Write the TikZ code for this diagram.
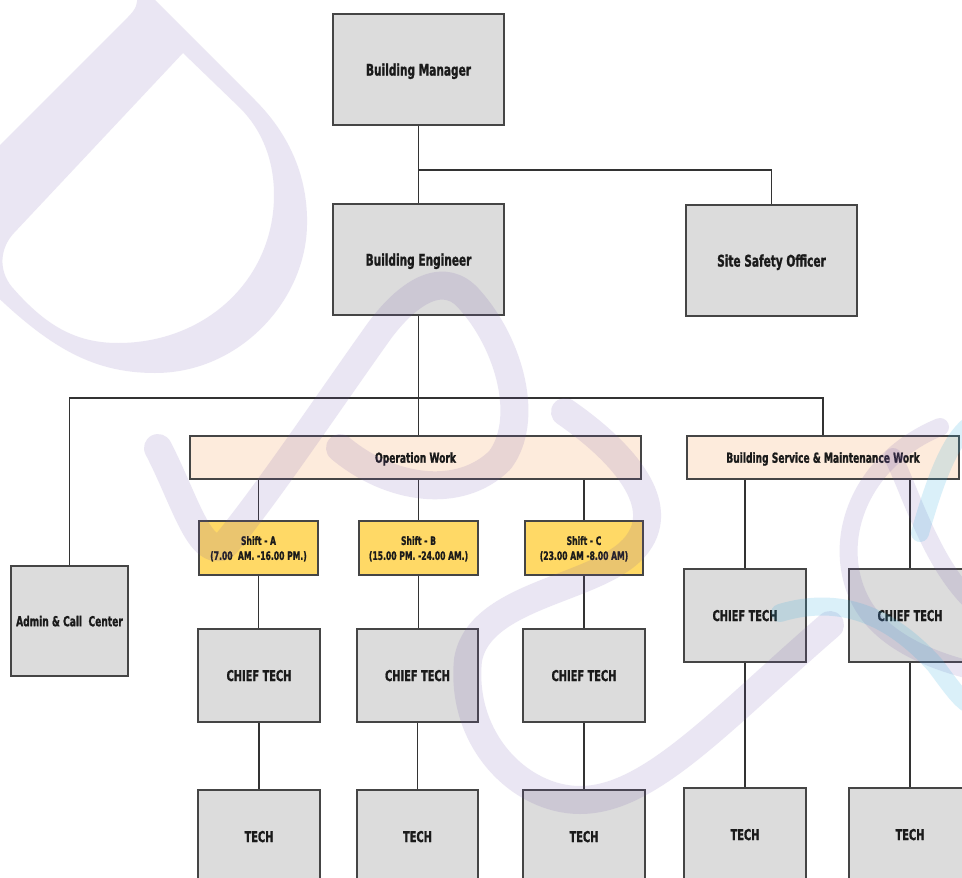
\documentclass[tikz,border=0pt]{standalone}
\usepackage{fontspec}
\setmainfont[FakeStretch=0.66, BoldFeatures={FakeBold=1.2}]{DejaVu Sans}
\definecolor{boxgray}{HTML}{DCDCDC}
\definecolor{edge}{HTML}{454545}
\definecolor{wire}{HTML}{333333}
\definecolor{peach}{HTML}{FDEBDC}
\definecolor{shiftyellow}{HTML}{FFD966}
\definecolor{ink}{HTML}{1A1A1A}
\definecolor{wmpurple}{RGB}{110,80,170}
\definecolor{wmcyan}{RGB}{50,175,225}
\begin{document}
\begin{tikzpicture}[x=1pt,y=-1pt,
  box/.style={draw=edge, line width=1.2pt, fill=boxgray, inner sep=0pt, text=ink,
    text depth=0pt, font=\bfseries\fontsize{16}{19}\selectfont},
  bigbox/.style={box, minimum width=171pt, minimum height=111pt},
  techbox/.style={box, minimum width=122pt, minimum height=93pt,
    font=\bfseries\fontsize{14.9}{18}\selectfont},
  groupbar/.style={box, fill=peach, minimum height=43pt,
    font=\bfseries\fontsize{13.8}{16}\selectfont},
  shiftbox/.style={box, fill=shiftyellow, minimum width=119pt, minimum height=54pt,
    align=center, font=\bfseries\fontsize{11.6}{15}\selectfont},
  link/.style={draw=wire, line width=1.5pt},
  wmband/.style={draw=wmpurple, draw opacity=0.14, line width=28pt, line cap=round, line join=round},
  wmthin/.style={wmband, line width=18pt},
  wmcyanband/.style={wmthin, draw=wmcyan, draw opacity=0.18}
]
\useasboundingbox (0,0) rectangle (962,878);
\clip (0,0) rectangle (962,878);
\fill[white] (0,0) rectangle (962,878);

% ---- management ----
\node[bigbox] (bm)  at (418.5,69.5)  {Building Manager};
\node[bigbox] (be)  at (418.5,259.5) {Building Engineer};
\node[bigbox] (sso) at (771.5,260.5) {Site Safety Officer};

% ---- departments ----
\node[box, minimum width=117pt, minimum height=110pt,
      font=\bfseries\fontsize{13.8}{16}\selectfont] (admin) at (69.5,621) {Admin \& Call\ \ Center};
\node[groupbar, minimum width=451pt] (ow)  at (415.5,457.5) {Operation Work};
\node[groupbar, minimum width=272pt] (bsm) at (823,457.5)   {Building Service \& Maintenance Work};

% ---- shifts ----
\node[shiftbox] (shA) at (258.5,548) {Shift - A\\(7.00\ \ AM. -16.00 PM.)};
\node[shiftbox] (shB) at (418.5,548) {Shift - B\\(15.00 PM. -24.00 AM.)};
\node[shiftbox, minimum width=118pt] (shC) at (584,548) {Shift - C\\(23.00 AM -8.00 AM)};

% ---- chief technicians ----
\node[techbox] (ctA) at (259,675.5) {CHIEF TECH};
\node[techbox, minimum width=121pt] (ctB) at (417.5,675.5) {CHIEF TECH};
\node[techbox] (ctC) at (584,675.5) {CHIEF TECH};
\node[techbox] (ctD) at (745,615.5) {CHIEF TECH};
\node[techbox] (ctE) at (910,615.5) {CHIEF TECH};

% ---- technicians ----
\node[techbox] (tA) at (259,836.5) {TECH};
\node[techbox, minimum width=121pt] (tB) at (417.5,836.5) {TECH};
\node[techbox] (tC) at (584,836.5) {TECH};
\node[techbox] (tD) at (745,834.5) {TECH};
\node[techbox] (tE) at (910,834.5) {TECH};

% ---- connectors ----
\coordinate (split1) at (418.5,170);
\coordinate (split2) at (418.5,398);
\path[link] (bm.south) -- (split1) -- (be.north);
\path[link] (split1) -| (sso.north);
\path[link] (be.south) -- (split2);
\path[link] (split2) -| (admin.north);
\path[link] (split2) -| (bsm.north);
\path[link] (split2) -- (split2 |- ow.north);

\foreach \s/\c/\t in {shA/ctA/tA, shB/ctB/tB, shC/ctC/tC}{
  \path[link] (\s.north |- ow.south) -- (\s.north);
  \path[link] (\s.south) -- (\s.south |- \c.north);
  \path[link] (\c.south) -- (\c.south |- \t.north);
}
\foreach \c/\t in {ctD/tD, ctE/tE}{
  \path[link] (\c.north |- bsm.south) -- (\c.north);
  \path[link] (\c.south) -- (\c.south |- \t.north);
}

% ---- faint logo in the background ----
\fill[wmpurple, fill opacity=0.14, even odd rule]
  (-20,165) -- (128,17) .. controls (136,9) and (138,4) .. (137,-5) -- (150,-5)
  -- (255,100) .. controls (295,140) and (308,185) .. (307,225)
  .. controls (306,300) and (240,373) .. (155,373)
  .. controls (90,373) and (45,345) .. (-20,280) -- cycle
  (183,53) -- (240,108) .. controls (262,130) and (274,160) .. (274,195)
  .. controls (274,280) and (205,343) .. (118,343)
  .. controls (75,343) and (45,325) .. (12,287)
  .. controls (-2,270) and (0,248) .. (14,233) -- cycle;
\draw[wmband] (158,448) .. controls (185,500) and (200,560) .. (225,545)
  .. controls (270,490) and (330,400) .. (380,330)
  .. controls (410,290) and (445,270) .. (470,300)
  .. controls (510,345) and (530,420) .. (500,460)
  .. controls (460,500) and (390,490) .. (340,448);
\draw[wmband] (565,412) .. controls (620,450) and (665,500) .. (640,540)
  .. controls (610,590) and (480,590) .. (468,660)
  .. controls (460,740) and (520,800) .. (580,800)
  .. controls (650,800) and (720,720) .. (830,625);
\draw[wmthin] (940,427) .. controls (860,460) and (830,540) .. (860,600)
  .. controls (880,640) and (930,660) .. (970,670);
\draw[wmthin] (893,457) .. controls (910,490) and (930,560) .. (970,600);
\draw[wmcyanband] (780,613) .. controls (840,595) and (890,615) .. (935,665)
  .. controls (950,685) and (960,700) .. (970,705);
\draw[wmcyanband] (920,533) .. controls (935,480) and (950,440) .. (970,425);
\end{tikzpicture}
\end{document}
